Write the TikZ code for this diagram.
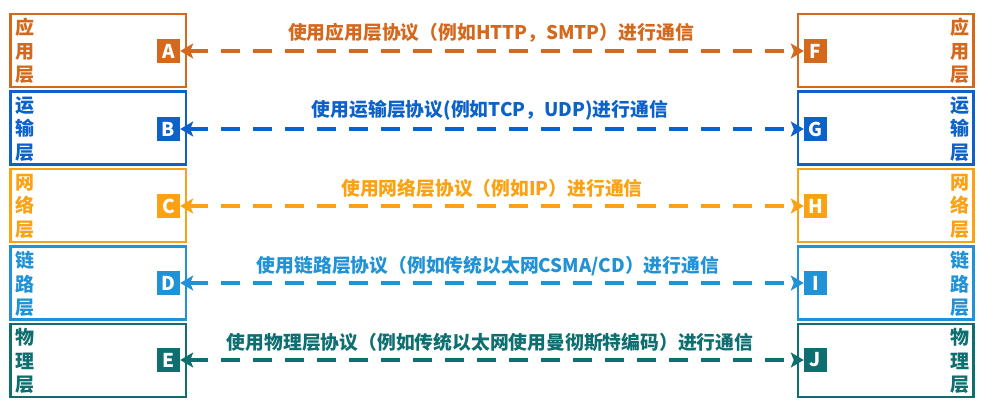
\documentclass[tikz,border=0pt]{standalone}
\usepackage{fontspec}
\newfontfamily\cjk{Noto Sans CJK SC}
\usetikzlibrary{arrows.meta}
\definecolor{cA}{RGB}{212,104,28}
\definecolor{cB}{RGB}{12,98,200}
\definecolor{cC}{RGB}{250,162,20}
\definecolor{cD}{RGB}{34,146,214}
\definecolor{cE}{RGB}{14,110,112}
\tikzset{
  layerbox/.style={draw=#1, line width=2.5pt, minimum width=175.5pt, minimum height=73pt, inner sep=0pt},
  tag/.style={fill=#1, text=white, minimum width=23pt, minimum height=24pt, inner sep=0pt, font=\cjk\bfseries\fontsize{19}{19}\selectfont},
  side/.style={text=#1, align=center, inner sep=0pt, font=\cjk\bfseries\fontsize{19}{23.5}\selectfont},
  proto/.style={text=#1, inner sep=0pt, font=\cjk\bfseries\fontsize{18.8}{20}\selectfont},
  conn/.style={draw=#1, line width=4.5pt, dash pattern=on 19pt off 13pt, {Stealth[length=13pt,width=15pt,inset=3pt]}-{Stealth[length=13pt,width=15pt,inset=3pt]}}
}
\begin{document}
\begin{tikzpicture}[x=1pt,y=-1pt]
\useasboundingbox (0,0) rectangle (1000,401);
% left boxes
\node[layerbox=cA] (L1) at (98,50.5) {};
\node[layerbox=cB] (L2) at (98,128) {};
\node[layerbox=cC] (L3) at (98,205.5) {};
\node[layerbox=cD] (L4) at (98,283) {};
\node[layerbox=cE] (L5) at (98,360.5) {};
% right boxes
\node[layerbox=cA] (R1) at (885.5,50.5) {};
\node[layerbox=cB] (R2) at (885.5,128) {};
\node[layerbox=cC] (R3) at (885.5,205.5) {};
\node[layerbox=cD] (R4) at (885.5,283) {};
\node[layerbox=cE] (R5) at (885.5,360.5) {};
% side labels
\node[side=cA] (sl1) at (25,51) {应\\用\\层};
\node[side=cB] (sl2) at (25,129) {运\\输\\层};
\node[side=cC] (sl3) at (25,206) {网\\络\\层};
\node[side=cD] (sl4) at (25,284) {链\\路\\层};
\node[side=cE] (sl5) at (25,361) {物\\理\\层};
\node[side=cA] (sr1) at (960,51) {应\\用\\层};
\node[side=cB] (sr2) at (960,129) {运\\输\\层};
\node[side=cC] (sr3) at (960,206) {网\\络\\层};
\node[side=cD] (sr4) at (960,284) {链\\路\\层};
\node[side=cE] (sr5) at (960,361) {物\\理\\层};
% tags
\node[tag=cA] (A) at (168.5,51) {A};
\node[tag=cB] (B) at (168.5,129) {B};
\node[tag=cC] (C) at (168.5,206) {C};
\node[tag=cD] (D) at (168.5,283) {D};
\node[tag=cE] (E) at (168.5,360) {E};
\node[tag=cA] (F) at (815.5,51) {F};
\node[tag=cB] (G) at (815.5,129) {G};
\node[tag=cC] (H) at (815.5,206) {H};
\node[tag=cD] (I) at (815.5,283) {I};
\node[tag=cE] (J) at (815.5,360) {J};
% connectors
\draw[conn=cA] (A.east) -- (F.west);
\draw[conn=cB] (B.east) -- (G.west);
\draw[conn=cC] (C.east) -- (H.west);
\draw[conn=cD] (D.east) -- (I.west);
\draw[conn=cE] (E.east) -- (J.west);
% protocol texts
\node[proto=cA] (t1) at (491,33) {使用应用层协议（例如HTTP，SMTP）进行通信};
\node[proto=cB] (t2) at (490,110) {使用运输层协议(例如TCP，UDP)进行通信};
\node[proto=cC] (t3) at (492,188) {使用网络层协议（例如IP）进行通信};
\node[proto=cD] (t4) at (488,266) {使用链路层协议（例如传统以太网CSMA/CD）进行通信};
\node[proto=cE] (t5) at (490,342) {使用物理层协议（例如传统以太网使用曼彻斯特编码）进行通信};
\end{tikzpicture}
\end{document}
